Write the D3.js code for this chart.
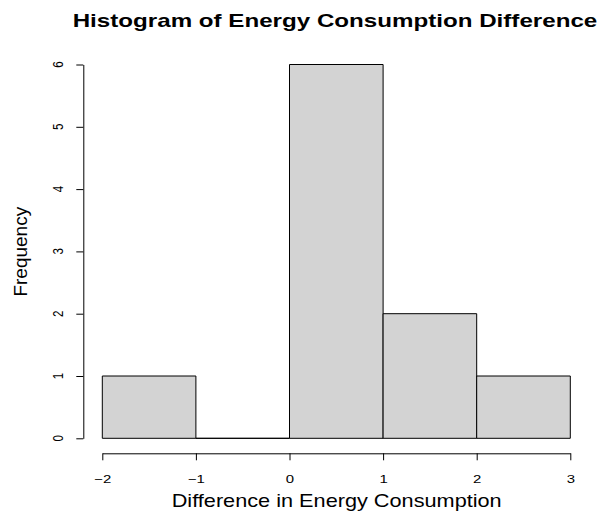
<!DOCTYPE html>
<html>
<head>
<meta charset="utf-8">
<script src="https://cdnjs.cloudflare.com/ajax/libs/d3/7.8.5/d3.min.js"></script>
<style>
  body { margin: 0; background: #fff; }
  svg { display: block; font-family: "Liberation Sans", Arial, sans-serif; }
</style>
</head>
<body>
<div id="chart"></div>
<script>
// Histogram bins and counts
const breaks = [-2, -1, 0, 1, 2, 3];
const counts = [1, 0, 6, 2, 1];
const xTicks = [-2, -1, 0, 1, 2, 3];
const yTicks = [0, 1, 2, 3, 4, 5, 6];

const title = "Histogram of Energy Consumption Difference";
const xLabel = "Difference in Energy Consumption";
const yLabel = "Frequency";

const width = 603, height = 519;
const stretch = 1.3; // the reference text is a little wider than it is tall

const bins = counts.map((c, i) => ({ x0: breaks[i], x1: breaks[i + 1], n: c }));

const x = d3.scaleLinear().domain([-2, 3]).range([102.3, 570.3]);
const y = d3.scaleLinear().domain([0, 6]).range([438.3, 64.5]);

const svg = d3.select("#chart").append("svg")
    .attr("width", width)
    .attr("height", height);

// bars (paths so that an empty bin still shows as a flat line)
svg.append("g")
    .selectAll("path")
    .data(bins)
    .join("path")
    .attr("d", d => `M${x(d.x0)},${y(0)}V${y(d.n)}H${x(d.x1)}V${y(0)}Z`)
    .attr("fill", "#d3d3d3")
    .attr("stroke", "#000")
    .attr("stroke-width", 1);

// x axis
const xAxis = svg.append("g")
    .attr("transform", "translate(0,453.3)")
    .call(d3.axisBottom(x).tickValues(xTicks).tickFormat(d3.format("d"))
        .tickSize(7).tickSizeOuter(0));
xAxis.selectAll("line, path").attr("stroke", "#000");
xAxis.selectAll("text").remove();
xAxis.selectAll(".tick").append("text")
    .attr("transform", `translate(0,29.4) scale(${stretch},1)`)
    .attr("text-anchor", "middle")
    .attr("font-size", 11.5)
    .attr("font-family", "Liberation Sans, Arial, sans-serif")
    .attr("fill", "#000")
    .text(d => d3.format("d")(d));

// y axis
const yAxis = svg.append("g")
    .attr("transform", "translate(83.3,0)")
    .call(d3.axisLeft(y).tickValues(yTicks).tickSize(7).tickSizeOuter(0));
yAxis.selectAll("line, path").attr("stroke", "#000");
yAxis.selectAll("text").remove();

// rotated y tick labels, as R draws them
svg.append("g")
    .selectAll("text")
    .data(yTicks)
    .join("text")
    .attr("transform", d => `translate(62.5,${y(d)}) scale(1.25,1) rotate(-90)`)
    .attr("text-anchor", "middle")
    .attr("font-size", 11.5)
    .text(d => d);

// title
svg.append("text")
    .attr("x", 72.7)
    .attr("y", 26.5)
    .attr("font-size", 19)
    .attr("font-weight", "bold")
    .attr("textLength", 524.6)
    .attr("lengthAdjust", "spacingAndGlyphs")
    .text(title);

// x label
svg.append("text")
    .attr("x", 171.7)
    .attr("y", 507.3)
    .attr("font-size", 19)
    .attr("textLength", 330)
    .attr("lengthAdjust", "spacingAndGlyphs")
    .text(xLabel);

// y label
svg.append("text")
    .attr("transform", "translate(26.7,251.7) rotate(-90)")
    .attr("text-anchor", "middle")
    .attr("font-size", 19)
    .text(yLabel);
</script>
</body>
</html>
